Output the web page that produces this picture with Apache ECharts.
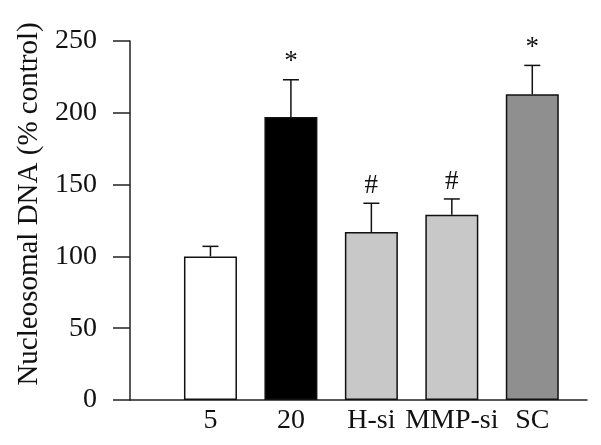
<!DOCTYPE html>
<html>
<head>
<meta charset="utf-8">
<script src="https://cdn.jsdelivr.net/npm/echarts@6/dist/echarts.min.js"></script>
<style>
  html, body { margin: 0; padding: 0; background: #fff; }
  #chart { width: 601px; height: 445px; }
</style>
</head>
<body>
<div id="chart"></div>
<script>
// 数据
const categories = ['5', '20', 'H-si', 'MMP-si', 'SC']
const means = [100, 197, 117, 129, 213]
const errTops = [107, 223, 137, 140, 233]
const marks = ['', '*', '#', '#', '*']
const barColors = ['#ffffff', '#000000', '#c8c8c8', '#c8c8c8', '#8f8f8f']
const yTicks = { min: 0, max: 250, interval: 50 }

const font = 'Liberation Serif'
const myChart = echarts.init(document.getElementById('chart'))

const option = {
  animation: false,
  grid: { left: 130, right: 14, top: 41, bottom: 45 },
  xAxis: {
    type: 'value',
    min: 0,
    max: 5.68,
    interval: 1,
    splitLine: { show: false },
    axisTick: { show: false },
    axisLine: { lineStyle: { color: '#222', width: 1.5 } },
    axisLabel: {
      margin: 7,
      color: '#111',
      fontFamily: font,
      fontSize: 28,
      showMaxLabel: false,
      formatter: (v) => (Number.isInteger(v) && v >= 1 ? categories[v - 1] : '')
    }
  },
  yAxis: {
    type: 'value',
    min: yTicks.min,
    max: yTicks.max,
    interval: yTicks.interval,
    name: 'Nucleosomal DNA (% control)',
    nameLocation: 'middle',
    nameRotate: 90,
    nameGap: 80,
    nameTextStyle: { color: '#111', fontFamily: font, fontSize: 29, padding: [0, 0, 0, 33] },
    splitLine: { show: false },
    axisLine: { show: true, lineStyle: { color: '#222', width: 1.5 } },
    axisTick: { length: 17, lineStyle: { color: '#222', width: 1.5 } },
    axisLabel: { margin: 33, color: '#111', fontFamily: font, fontSize: 28 }
  },
  series: [
    {
      type: 'bar',
      barWidth: 53,
      data: means.map((v, i) => ({
        value: [i + 1, v],
        itemStyle: { color: barColors[i], borderColor: '#111', borderWidth: 1.5 }
      }))
    },
    {
      type: 'custom',
      data: means.map((v, i) => [i + 1, v, errTops[i]]),
      renderItem: (params, api) => {
        const i = params.dataIndex
        const base = api.coord([api.value(0), api.value(1)])
        const top = api.coord([api.value(0), api.value(2)])
        const style = { stroke: '#111', lineWidth: 1.5 }
        return {
          type: 'group',
          children: [
            { type: 'line', shape: { x1: base[0], y1: base[1], x2: top[0], y2: top[1] }, style },
            { type: 'line', shape: { x1: top[0] - 8, y1: top[1], x2: top[0] + 8, y2: top[1] }, style },
            {
              type: 'text',
              x: top[0],
              y: top[1] - 4,
              style: {
                text: marks[i],
                fill: '#111',
                font: `27px "${font}"`,
                align: 'center',
                verticalAlign: 'bottom'
              }
            }
          ]
        }
      },
      z: 3
    }
  ]
}
myChart.setOption(option)
</script>
</body>
</html>
